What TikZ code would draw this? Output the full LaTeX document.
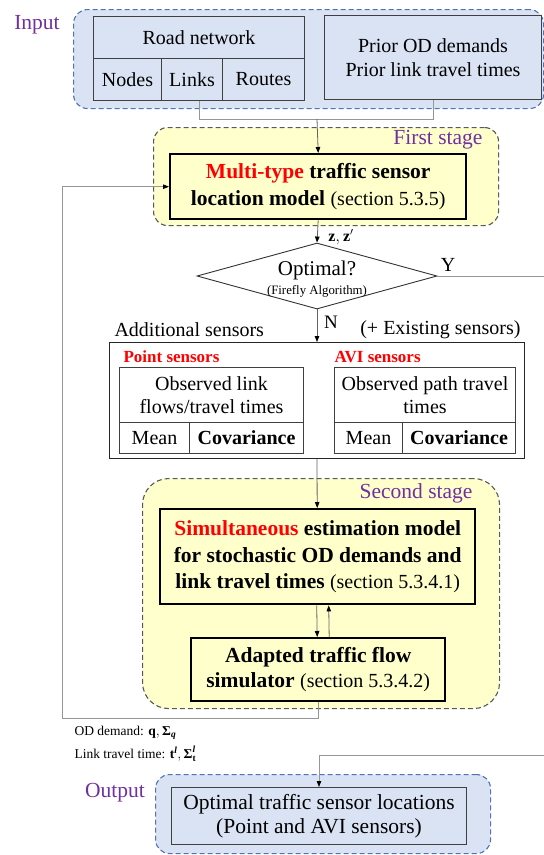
\documentclass[tikz,border=0pt]{standalone}
\usepackage{amsmath}
\usepackage{fontspec}
\setmainfont{Liberation Serif}
\usetikzlibrary{arrows.meta,shapes.geometric}
\definecolor{inputfill}{RGB}{218,227,243}
\definecolor{inputedge}{RGB}{79,114,184}
\definecolor{stagefill}{RGB}{255,255,204}
\definecolor{stageedge}{RGB}{89,89,89}
\definecolor{purp}{RGB}{112,48,160}
\definecolor{cellline}{RGB}{64,64,64}
\definecolor{wirecol}{RGB}{150,150,150}
\definecolor{arrowcol}{RGB}{100,100,100}
\newcommand\fsz[2]{\fontsize{#1}{#2}\selectfont}
\begin{document}
\begin{tikzpicture}[x=1pt,y=-1pt,
  group/.style={rounded corners=14pt, dash pattern=on 5pt off 3pt, line width=1.1pt,
    anchor=north west, inner sep=0pt},
  ingroup/.style={group, draw=inputedge, fill=inputfill},
  stage/.style={group, draw=stageedge, fill=stagefill},
  cell/.style={draw=cellline, line width=1pt, inner sep=0pt, anchor=north west, align=center,
    font=\fsz{20}{23.5}},
  model/.style={draw=black, line width=2.4pt, fill=stagefill, inner sep=0pt, anchor=north west,
    align=center},
  tip/.style={-{Triangle[length=6pt,width=4.5pt,color=black]}},
  wire/.style={draw=wirecol, line width=0.9pt},
  flow/.style={draw=arrowcol, line width=0.8pt, tip},
  tag/.style={text=purp, font=\fsz{21.5}{24}},
  plain/.style={font=\fsz{20}{23.5}}
]
\useasboundingbox (0,0) rectangle (544,855);

% ---------- input ----------
\node[ingroup, minimum width=470, minimum height=99] (inbox) at (73,9) {};
\node[tag] (intag) at (37,25) {Input};
\node[cell, fill=inputfill, minimum width=211, minimum height=42] (road) at (93,16) {Road network};
\node[cell, fill=inputfill, minimum width=68, minimum height=42] (nodes) at (93,58) {Nodes};
\node[cell, fill=inputfill, minimum width=61, minimum height=42] (links) at (161,58) {Links};
\node[cell, fill=inputfill, minimum width=82, minimum height=42] (routes) at (222,58) {Routes};
\node[cell, fill=inputfill, minimum width=217, minimum height=84] (prior) at (324,15)
  {Prior OD demands\\Prior link travel times};

% ---------- first stage ----------
\node[stage, minimum width=345, minimum height=98] (stage1) at (153,127) {};
\node[tag, anchor=east] (s1tag) at (486,140) {First stage};
\node[model, minimum width=296, minimum height=65, font=\fsz{21.5}{27}\bfseries] (multi) at (169,153)
  {{\color{red}Multi-type} traffic sensor\\location model {\mdseries\fsz{20}{27}(section 5.3.5)}};

% ---------- decision ----------
\node[diamond, draw=black!80, line width=0.9pt, fill=white, minimum width=240, minimum height=66,
  inner sep=0pt] (opt) at (317,276) {};
\node[font=\fsz{21}{24}] (optq) at (317,270) {Optimal?};
\node[font=\fsz{12.8}{15}] (ffa) at (317,291) {(Firefly Algorithm)};
\node[font=\fsz{16}{18}\bfseries] (zlab) at (341,237) {$\textbf{z}, \textbf{z}'$};
\node[plain] (ylab) at (448,265) {Y};
\node[font=\fsz{19}{22}] (nlab) at (331,322) {N};

% ---------- sensors ----------
\node[plain, anchor=west] (addl) at (111,330) {Additional sensors};
\node[plain, anchor=east] (exist) at (524,330) {(+ Existing sensors)};
\node[draw=black!85, line width=1pt, fill=white, minimum width=415, minimum height=116,
  inner sep=0pt, anchor=north west] (sens) at (109,342) {};
\node[anchor=west, text=red, font=\fsz{17}{20}\bfseries] (ptag) at (120,357) {Point sensors};
\node[cell, minimum width=184, minimum height=55] (pobs) at (119,367) {Observed link\\flows/travel times};
\node[cell, minimum width=70, minimum height=31] (pmean) at (119,422) {Mean};
\node[cell, minimum width=114, minimum height=31, font=\fsz{20}{23.5}\bfseries] (pcov) at (189,422) {Covariance};
\node[anchor=west, text=red, font=\fsz{17}{20}\bfseries] (atag) at (331,357) {AVI sensors};
\node[cell, minimum width=181, minimum height=55] (aobs) at (334,367) {Observed path travel\\times};
\node[cell, minimum width=68, minimum height=31] (amean) at (334,422) {Mean};
\node[cell, minimum width=113, minimum height=31, font=\fsz{20}{23.5}\bfseries] (acov) at (402,422) {Covariance};

% ---------- second stage ----------
\node[stage, rounded corners=26pt, minimum width=357, minimum height=230] (stage2) at (142,478) {};
\node[tag, anchor=east] (s2tag) at (476,493) {Second stage};
\node[model, minimum width=315, minimum height=95, font=\fsz{21.5}{26.5}\bfseries] (simul) at (159,508)
  {{\color{red}Simultaneous} estimation model\\for stochastic OD demands and\\link travel times {\mdseries\fsz{20}{26.5}(section 5.3.4.1)}};
\node[model, minimum width=254, minimum height=63, font=\fsz{21.5}{25}\bfseries] (sim) at (190,637)
  {Adapted traffic flow\\simulator {\mdseries\fsz{20}{25}(section 5.3.4.2)}};

% ---------- estimates ----------
\node[anchor=west, font=\fsz{13.5}{16}] (odlab) at (71,733) {OD demand: $\textbf{q}, \textbf{Σ}_{\textbf{\textit{q}}}$};
\node[anchor=west, font=\fsz{13.5}{16}] (ttlab) at (71,754) {Link travel time: $\textbf{t}^{\textbf{\textit{l}}}, \textbf{Σ}^{\textbf{\textit{l}}}_{\textbf{t}}$};

% ---------- output ----------
\node[ingroup, minimum width=335, minimum height=79] (outbox) at (155,774) {};
\node[tag] (outtag) at (115,793) {Output};
\node[cell, fill=inputfill, minimum width=295, minimum height=57, font=\fsz{21.5}{23.5}] (result) at (171,787)
  {Optimal traffic sensor locations\\(Point and AVI sensors)};

% ---------- connectors ----------
\coordinate (merge) at (317,119);
\draw[wire] ([xshift=7.5pt]links.south) |- (prior.south |- merge) -- (prior.south);
\draw[flow] (merge) -- (multi.north);
\draw[flow] (multi.south) -- (opt.north);
\draw[flow] (opt.south) -- (sens.north);
\draw[flow] (sens.south) -- ([xshift=-0.5pt]simul.north);
\draw[flow] ([xshift=-1pt]simul.south) -- ([xshift=-1pt]sim.north);
\draw[flow] ([xshift=11pt]sim.north) -- ([xshift=11pt]simul.south);
\coordinate (fb) at (62,718);
\draw[wire, tip] (sim.south) |- (fb) |- (multi.west);
\coordinate (yr) at (549,276);
\coordinate (yd) at (549,755);
\draw[wire, tip] (opt.east) -- (yr) -- (yd) -| (result.north);
\end{tikzpicture}
\end{document}
